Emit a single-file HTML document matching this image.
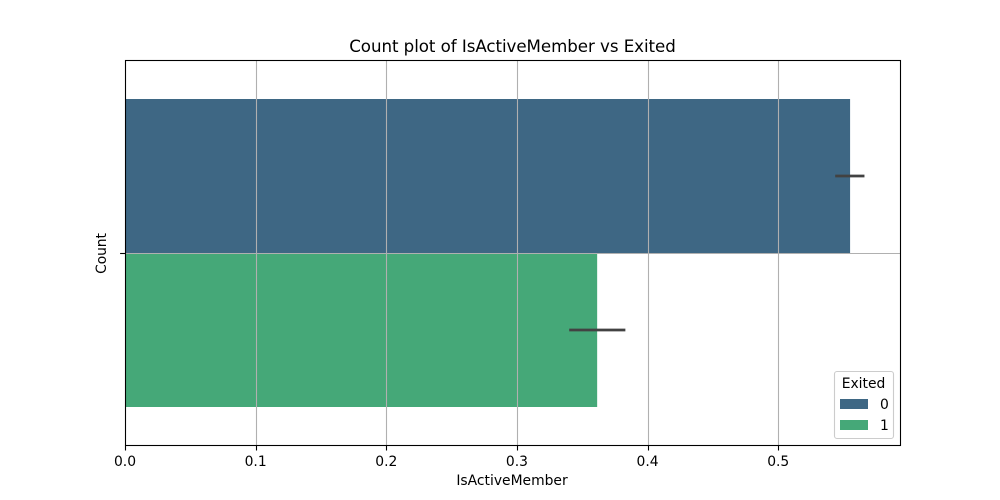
<!DOCTYPE html>
<html>
<head>
<meta charset="utf-8">
<title>Count plot of IsActiveMember vs Exited</title>
<style>
html,body{margin:0;padding:0;background:#fff;width:1000px;height:500px;overflow:hidden}
svg{display:block}
text{font-family:"DejaVu Sans",sans-serif;fill:#000}
</style>
</head>
<body>
<svg id="chart" width="1000" height="500" viewBox="0 0 1000 500" xmlns="http://www.w3.org/2000/svg">
  <rect x="0" y="0" width="1000" height="500" fill="#fff"/>
  <g id="bars"></g>
  <g id="grid"></g>
  <g id="errors"></g>
  <rect x="125.5" y="60.5" width="775" height="385" fill="none" stroke="#000" stroke-width="1.1"/>
  <g id="ticks"></g>
  <text x="512.5" y="52" font-size="16.67" letter-spacing="-0.05" text-anchor="middle">Count plot of IsActiveMember vs Exited</text>
  <text x="512" y="485" font-size="13.89" text-anchor="middle">IsActiveMember</text>
  <text x="0" y="0" font-size="13.89" letter-spacing="-0.1" text-anchor="middle" transform="translate(106 253.5) rotate(-90)">Count</text>
  <g id="legend">
    <rect x="834.5" y="371.5" width="59" height="67" rx="2.5" fill="#fff" fill-opacity="0.8" stroke="#ccc" stroke-width="1.1"/>
    <text x="863.5" y="388" font-size="13.89" text-anchor="middle">Exited</text>
    <rect id="legend-swatch-0" x="840" y="399" width="28" height="10"/>
    <text x="880" y="409" font-size="13.89">0</text>
    <rect id="legend-swatch-1" x="840" y="420" width="28" height="10"/>
    <text x="880" y="430" font-size="13.89">1</text>
  </g>
</svg>
<script>
var exitedGroups = ['0', '1'];
var meanValues = [0.555, 0.3614];
var errorLow = [0.5436, 0.340];
var errorHigh = [0.566, 0.383];
var barColors = ['#3e6784', '#45a878'];
var xTickValues = [0.0, 0.1, 0.2, 0.3, 0.4, 0.5];
var xTickLabels = ['0.0', '0.1', '0.2', '0.3', '0.4', '0.5'];

var NS = 'http://www.w3.org/2000/svg';
var plotLeft = 125, plotRight = 900, plotTop = 60.5, plotBottom = 445.5;
var xMax = 0.5932;
function xScale(v) { return plotLeft + (v / xMax) * (plotRight - plotLeft); }
function yScale(v) { return plotTop + ((v + 0.5) / 1) * (plotBottom - plotTop); }
function make(tag, parentId, attrs) {
  var el = document.createElementNS(NS, tag);
  for (var k in attrs) { el.setAttribute(k, attrs[k]); }
  document.getElementById(parentId).appendChild(el);
  return el;
}
var barThickness = 0.4;
var yCenter = 0;

exitedGroups.forEach(function (group, i) {
  var y0 = i === 0 ? yCenter - barThickness : yCenter;
  var bar = make('rect', 'bars', {
    x: xScale(0), y: yScale(y0),
    width: xScale(meanValues[i]) - xScale(0),
    height: yScale(y0 + barThickness) - yScale(y0),
    fill: barColors[i]
  });
  
  

  var mid = Math.round(yScale(y0 + barThickness / 2));
  var err = make('line', 'errors', {
    x1: xScale(errorLow[i]), x2: xScale(errorHigh[i]),
    y1: mid, y2: mid,
    stroke: '#424242', 'stroke-width': 2.8
  });
  
  

  document.getElementById('legend-swatch-' + i).setAttribute('fill', barColors[i]);
});

xTickValues.forEach(function (v, i) {
  var px = Math.round(xScale(v)) + 0.5;
  if (v > 0) {
    var g = make('line', 'grid', { x1: px, x2: px, y1: plotTop, y2: plotBottom, stroke: '#b0b0b0', 'stroke-width': 1.1 });
    
    
  }
  var t = make('line', 'ticks', { x1: px, x2: px, y1: plotBottom, y2: plotBottom + 5, stroke: '#000', 'stroke-width': 1.1 });
  
  
  var lab = make('text', 'ticks', { x: xScale(v), y: 466, 'font-size': 13.89, 'text-anchor': 'middle' });
  lab.textContent = xTickLabels[i];
  
  
});

var hy = Math.floor(yScale(yCenter)) + 0.5;
var hGrid = make('line', 'grid', { x1: plotLeft, x2: plotRight, y1: hy, y2: hy, stroke: '#b0b0b0', 'stroke-width': 1.1 });


var yTick = make('line', 'ticks', { x1: plotLeft - 4.9, x2: plotLeft, y1: hy, y2: hy, stroke: '#000', 'stroke-width': 1.1 });


</script>
</body>
</html>
